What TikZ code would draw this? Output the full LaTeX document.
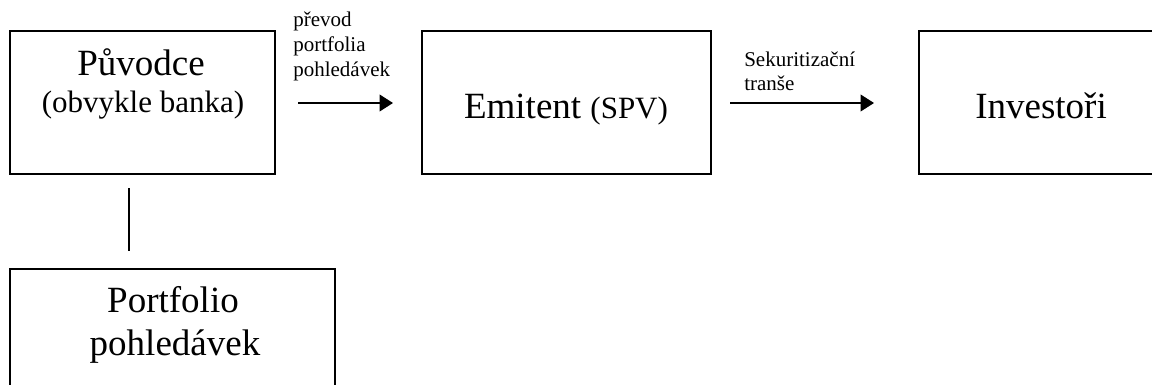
\documentclass[tikz,border=0pt]{standalone}
\usepackage{fontspec}
\setmainfont{Liberation Serif}
\usetikzlibrary{arrows.meta}
\tikzset{
  box/.style={draw=black, line width=1.1pt, rectangle, inner sep=0pt},
  big/.style={inner sep=0pt, font=\fontsize{27.75pt}{30pt}\selectfont},
  mid/.style={inner sep=0pt, font=\fontsize{23.25pt}{26pt}\selectfont},
  small/.style={inner sep=0pt, font=\fontsize{15.75pt}{18pt}\selectfont},
  flow/.style={line width=1.1pt, -{Triangle[length=10pt,width=12.5pt]}},
  link/.style={line width=1.1pt}
}
\begin{document}
\begin{tikzpicture}[x=0.75pt,y=-0.75pt]
\useasboundingbox (0,0) rectangle (1152,385);
\clip (0,0) rectangle (1152,385);
% boxes
\node[box, minimum width=265*0.75pt, minimum height=143*0.75pt] (orig) at (142.5,102.5) {};
\node[box, minimum width=289*0.75pt, minimum height=143*0.75pt] (emit) at (566.5,102.5) {};
\node[box, minimum width=243*0.75pt, minimum height=143*0.75pt] (inv) at (1040.5,102.5) {};
\node[box, minimum width=325*0.75pt, minimum height=143*0.75pt] (port) at (172.5,340.5) {};
% texts
\node[big, anchor=base] (t1) at (141,75) {Původce};
\node[mid, anchor=base] (t2) at (143,113) {(obvykle banka)};
\node[anchor=base, inner sep=0pt, font=\fontsize{27.75pt}{30pt}\selectfont] (t3) at (566,118) {Emitent\ {\fontsize{23.25pt}{26pt}\selectfont(SPV)}};
\node[big, anchor=base] (t4) at (1041,118) {Investoři};
\node[big, anchor=base] (t5) at (173,312) {Portfolio};
\node[big, anchor=base] (t6) at (175,355) {pohledávek};
% arrow labels
\node[small, anchor=base west] (l1) at (293,27) {převod};
\node[small, anchor=base west] (l2) at (293,52) {portfolia};
\node[small, anchor=base west] (l3) at (293,77) {pohledávek};
\node[small, anchor=base west] (l4) at (744,67) {Sekuritizační};
\node[small, anchor=base west] (l5) at (744,90) {tranše};
% connectors
\coordinate (a1s) at (298,103);
\coordinate (a1e) at (393,103);
\coordinate (a2s) at (730,103);
\coordinate (a2e) at (874,103);
\coordinate (v1) at (129,188);
\coordinate (v2) at (129,251);
\draw[flow] (a1s) -- (a1e);
\draw[flow] (a2s) -- (a2e);
\draw[link] (v1) -- (v2);
\end{tikzpicture}
\end{document}
